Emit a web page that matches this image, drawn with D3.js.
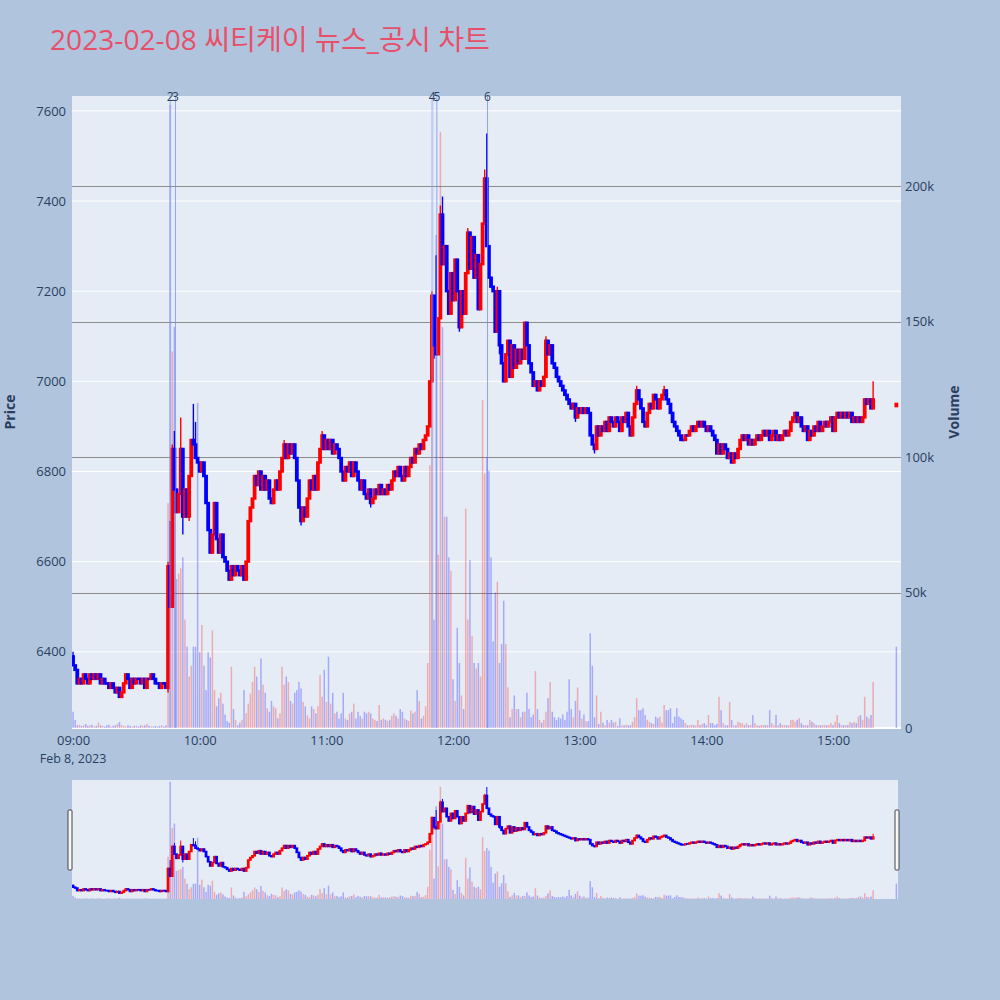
<!DOCTYPE html>
<html><head><meta charset="utf-8">
<script src="https://cdn.jsdelivr.net/npm/d3@7"></script>
<style>body{margin:0;background:#b0c4de;}svg{display:block;}</style>
</head><body><svg id="c" width="1000" height="1000"></svg>
<script>
// ---------------- DATA ----------------
const chartTitle = "2023-02-08 씨티케이 뉴스_공시 차트";
const tradeDate = "2023-02-08";
const sessionStart = "09:00";
const firstOpen = 6390;
// 1-minute closes from 09:00 (index = minutes after 09:00)
const closes = [
6370,6360,6330,6340,6330,6350,6340,6330,6350,6340,
6350,6340,6350,6330,6340,6330,6330,6320,6330,6320,
6310,6320,6300,6310,6330,6350,6340,6320,6340,6330,
6340,6340,6330,6340,6320,6340,6340,6350,6340,6330,
6330,6320,6330,6330,6320,6590,6500,6850,6760,6710,
6750,6850,6700,6760,6700,6790,6870,6860,6830,6820,
6800,6820,6790,6730,6670,6620,6660,6730,6650,6620,
6660,6610,6600,6580,6560,6590,6570,6590,6580,6570,
6590,6560,6600,6690,6720,6740,6790,6770,6800,6760,
6790,6760,6780,6740,6730,6760,6780,6760,6800,6830,
6860,6830,6860,6840,6860,6830,6780,6720,6690,6720,
6700,6740,6780,6760,6790,6760,6820,6850,6880,6850,
6870,6850,6870,6840,6860,6850,6830,6800,6780,6810,
6800,6820,6790,6820,6800,6780,6760,6780,6750,6740,
6760,6730,6740,6760,6750,6770,6750,6760,6750,6770,
6760,6780,6800,6790,6810,6790,6780,6810,6790,6810,
6830,6820,6850,6840,6860,6850,6870,6880,6900,7000,
7190,7080,7060,7140,7370,7260,7300,7200,7150,7240,
7180,7270,7200,7120,7200,7150,7240,7330,7250,7320,
7230,7280,7160,7260,7350,7450,7300,7230,7210,7200,
7110,7200,7080,7040,7000,7060,7090,7010,7080,7030,
7070,7040,7070,7050,7130,7080,7040,7020,6990,7000,
6980,7000,6990,7010,7090,7060,7080,7040,7030,7010,
7000,6990,6980,6970,6960,6950,6940,6950,6920,6940,
6930,6940,6930,6940,6930,6880,6860,6850,6900,6880,
6900,6890,6910,6890,6920,6910,6900,6920,6910,6890,
6920,6910,6930,6900,6880,6920,6950,6980,6960,6940,
6910,6900,6930,6950,6940,6970,6960,6940,6960,6970,
6980,6960,6950,6930,6910,6900,6890,6880,6870,6870,
6880,6880,6890,6900,6890,6900,6910,6900,6910,6900,
6890,6900,6890,6880,6870,6840,6860,6840,6860,6850,
6830,6840,6820,6840,6830,6850,6870,6880,6870,6880,
6860,6870,6860,6870,6880,6870,6880,6890,6880,6890,
6870,6880,6890,6870,6880,6870,6880,6890,6880,6890,
6910,6920,6930,6910,6920,6900,6890,6900,6870,6890,
6880,6900,6890,6910,6890,6900,6910,6900,6910,6920,
6890,6920,6930,6920,6930,6920,6930,6920,6930,6910,
6920,6910,6920,6910,6920,6960,6950,6960,6940,6960
];
// 1-minute volumes, thousands of shares
const volumesK = [
6,3,1,1.2,0.8,1,1.5,0.8,1,1.2,
0.5,0.8,2,1,0.8,0.5,1,1.2,0.5,0.8,
1,1.5,2.2,1,0.8,0.5,1,0.8,0.5,0.8,
0.8,0.5,1,0.8,1,1.5,0.8,0.6,0.5,0.8,
0.5,0.8,1,0.5,1,83,230,139,148,55,
57,59,63,40,30,19,23,30,30,120,
28,38,23,14,28,26,36,14,8,11,
13,9,5,2.6,2,22.6,7,3,1,2,
3,14,5.4,9,12.7,17,22.6,19,14,25.7,
16,13,7.3,6,10,8,7.3,3.6,5.4,22.6,
16,19,17,10,9,13,14,17,14.6,9.6,
8,4.7,3.6,8,7,5.4,8,19.5,11.6,21.5,
9.6,26.3,9,13,5.4,6,3.5,5.4,13,3.5,
3,5.4,6,9,3.5,6,4.5,3.5,6,5.4,
6,5.4,3.5,3,2.6,8.5,3,3.5,3,2.6,
3,4.5,5.4,4.5,3.5,7,6,3.5,3,2.6,
6.5,5.4,6,14,10,3.5,4.5,8,24,97,
150,40,182,64,220,148,78,78,63,58,
18,10,37,24,12,7,81,40,62,34,
24,22,24,19,121,94,100,95,63,32,
50,54,24,31,47,31,15,4,7,12,
7,7,4,6,6,13,7,4,5,21,
7,3,2,3,6,11,17,6,4,3,
4,3.5,5,3,6,18,7,4,10,15,
6.5,3.5,5,2.5,2.5,35,23,4,12,1.5,
6,2,1,3,2,3,2,2.3,0.7,3.6,
1,1,1.2,1,1,2.3,4,11,6.6,6.6,
7.3,4.8,3,2.3,1.8,1.5,4.2,3.6,4.2,2,
8.5,6.6,6.6,7.3,1.8,4.2,7.3,4.2,3.6,3,
1.8,1,1,1.2,1,1,3,1,1.5,1.8,
1,4.8,1.8,1.8,1,1.5,11.5,6.6,1.8,1,
1,9.7,3,1,1,2.3,2,1.8,1,1.8,
1,1.1,4.8,1.8,1,0.8,1.1,1.1,1.1,1,
6.6,1.8,1,4.8,1,1.8,1.1,1.1,1,1,
3,3,2.3,3,3.6,1.8,1,1.1,1,3,
2.3,1.8,1.1,1,1,1.1,1.1,1,1.1,1.8,
1,2.3,4.8,1.8,1,1.1,1,1.1,2.3,1.8,
2.3,1.8,4.2,4.8,3,11.5,4.2,3.6,4.8,17
];
// wick extremes that go beyond the candle body (minute index -> price)
const wickHighs = {0:6400,45:6600,46:6690,47:6860,48:6890,51:6920,57:6950,58:6910,100:6870,118:6890,
  170:7200,172:7280,174:7390,175:7410,187:7340,195:7470,196:7550,201:7210,224:7100,267:6990,280:6990,379:7000};
const wickLows = {22:6300,45:6310,52:6660,55:6690,108:6680,141:6720,171:7050,183:7110,202:7060,238:6910,247:6840};
// closing auction print
const auctionTime = "15:30";
const auctionOpen = 6945, auctionClose = 6950, auctionVolumeK = 30;
// news / disclosure markers
const newsTimes = ["09:46:00","09:48:30","11:50:10","11:52:20","12:16:20"];
const newsLabels = ["2","3","4","5","6"];
// axes
const priceTicks = [6400,6600,6800,7000,7200,7400,7600];
const volumeTicksK = [0,50,100,150,200];
const volumeTickLabels = ["0","50k","100k","150k","200k"];
const timeTicks = ["09:00","10:00","11:00","12:00","13:00","14:00","15:00"];
const dateLabel = "Feb 8, 2023";

// ---------------- LAYOUT ----------------
const P = {left:72, right:901, top:96, bottom:728};
const SL = {left:72, right:898, top:780, bottom:899};
const UP = "#ff0000", DOWN = "#0000ff";
const FONT = "'Open Sans', 'Noto Sans', sans-serif";
const TXT = "#2a3f5f";

const parse = d3.timeParse("%Y-%m-%d %H:%M:%S");
const t0 = parse(tradeDate + " " + sessionStart + ":00");
const MIN = 60000;

const candles = closes.map((c, i) => {
  const o = i === 0 ? firstOpen : closes[i-1];
  const hi = Math.max(o, c, wickHighs[i] ?? -Infinity);
  const lo = Math.min(o, c, wickLows[i] ?? Infinity);
  return {time: new Date(+t0 + i*MIN), open:o, close:c, high:hi, low:lo,
          vol: volumesK[i]*1000, prev: i === 0 ? firstOpen : closes[i-1]};
});
candles.push({time: parse(tradeDate+" "+auctionTime+":00"), open:auctionOpen, close:auctionClose,
  high:Math.max(auctionOpen,auctionClose), low:Math.min(auctionOpen,auctionClose),
  vol:auctionVolumeK*1000, prev: closes[closes.length-1]});

const x = d3.scaleTime()
  .domain([new Date(+t0 - 0.5*MIN), new Date(+t0 + 392.2*MIN)])
  .range([P.left, P.right]);
const yP = d3.scaleLinear().domain([6231, 7633]).range([P.bottom, P.top]);
const yV = d3.scaleLinear().domain([0, 233300]).range([P.bottom, P.top]);
const yPs = yP.copy().range([SL.bottom, SL.top]);
const yVs = yV.copy().range([SL.bottom, SL.top]);

const svg = d3.select("#c");
svg.append("rect").attr("width",1000).attr("height",1000).attr("fill","#b0c4de");

// title
svg.append("text").attr("x",50).attr("y",50).attr("font-family","'Open Sans','Noto Sans CJK KR',sans-serif")
  .attr("font-size",28).attr("fill","#e8506a").attr("textLength",440).attr("lengthAdjust","spacingAndGlyphs")
  .text(chartTitle);

// plot background
svg.append("rect").attr("x",P.left).attr("y",P.top).attr("width",P.right-P.left).attr("height",P.bottom-P.top).attr("fill","#e5ecf6");

const defs = svg.append("defs");
defs.append("clipPath").attr("id","clipMain").append("rect")
  .attr("x",P.left).attr("y",P.top).attr("width",P.right-P.left).attr("height",P.bottom-P.top);
defs.append("clipPath").attr("id","clipSl").append("rect")
  .attr("x",SL.left).attr("y",SL.top).attr("width",SL.right-SL.left).attr("height",SL.bottom-SL.top);

// price grid (white)
svg.append("g").selectAll("line").data(priceTicks).join("line")
  .attr("x1",P.left).attr("x2",P.right).attr("y1",d=>yP(d)).attr("y2",d=>yP(d))
  .attr("stroke","#ffffff").attr("stroke-width",1);
// volume zero line
svg.append("line").attr("x1",P.left).attr("x2",P.right).attr("y1",yV(0)).attr("y2",yV(0))
  .attr("stroke","#ffffff").attr("stroke-width",2);
// volume grid (gray)
svg.append("g").selectAll("line").data(volumeTicksK.filter(d=>d>0)).join("line")
  .attr("x1",P.left).attr("x2",P.right).attr("y1",d=>Math.round(yV(d*1000))+0.5).attr("y2",d=>Math.round(yV(d*1000))+0.5)
  .attr("stroke","#8c8c8c").attr("stroke-width",1.2);

function drawVolumes(g, yv, vw) {
  g.append("g").selectAll("rect").data(candles).join("rect")
    .attr("x", d => x(d.time) - vw/2).attr("width", vw)
    .attr("y", d => yv(d.vol)).attr("height", d => Math.max(0, yv(0) - yv(d.vol)))
    .attr("fill", d => d.close > d.prev ? UP : DOWN).attr("fill-opacity", 0.28);
}
function drawCandles(g, ys, bw, sw, ww) {
  const cg = g.append("g");
  const col = d => d.close > d.open ? UP : DOWN;
  cg.selectAll("line").data(candles).join("line")
    .attr("x1", d => x(d.time)).attr("x2", d => x(d.time))
    .attr("y1", d => ys(d.high)).attr("y2", d => ys(d.low))
    .attr("stroke", col).attr("stroke-width", ww);
  cg.selectAll("rect").data(candles).join("rect")
    .attr("x", d => x(d.time) - bw/2).attr("width", bw)
    .attr("y", d => ys(Math.max(d.open, d.close)))
    .attr("height", d => Math.max(0.1, Math.abs(ys(d.open) - ys(d.close))))
    .attr("fill", col).attr("stroke", col).attr("stroke-width", sw);
}

const main = svg.append("g").attr("clip-path","url(#clipMain)");
drawVolumes(main, yV, 1.5);

// news marker lines
const newsG = svg.append("g");
newsTimes.forEach((t, i) => {
  const xx = x(parse(tradeDate + " " + t));
  const wide = (newsLabels[i] === "2" || newsLabels[i] === "4");
  newsG.append("line").attr("x1",xx).attr("x2",xx).attr("y1",P.top).attr("y2",P.bottom)
    .attr("stroke", wide ? "#8fa3f0" : "#7085e8").attr("stroke-opacity", wide ? 0.45 : 0.7)
    .attr("stroke-width", wide ? 2.2 : 1);
  newsG.append("text").attr("x",xx).attr("y",P.top+4.5).attr("text-anchor","middle")
    .attr("font-family",FONT).attr("font-size",12).attr("fill",TXT).text(newsLabels[i]);
});

drawCandles(main, yP, 1.4, 2.4, 1.4);

// axes
const axisFont = (g, fs) => g.selectAll("text").attr("font-family",FONT).attr("font-size",fs).attr("fill",TXT);
const gyL = svg.append("g").attr("transform",`translate(${P.left},0)`)
  .call(d3.axisLeft(yP).tickValues(priceTicks).tickSize(0).tickPadding(6).tickFormat(d3.format("d")));
gyL.select(".domain").remove(); axisFont(gyL, 13);
const gyR = svg.append("g").attr("transform",`translate(${P.right},0)`)
  .call(d3.axisRight(yV).tickValues(volumeTicksK.map(v=>v*1000)).tickSize(0).tickPadding(4)
    .tickFormat((d,i)=>volumeTickLabels[i]));
gyR.select(".domain").remove(); axisFont(gyR, 13);
const gx = svg.append("g").attr("transform",`translate(0,${P.bottom})`)
  .call(d3.axisBottom(x).tickValues(timeTicks.map(t=>parse(tradeDate+" "+t+":00"))).tickSize(0).tickPadding(8)
    .tickFormat(d3.timeFormat("%H:%M")));
gx.select(".domain").remove(); axisFont(gx, 13);
svg.append("text").attr("x", x(t0)).attr("y", 763).attr("text-anchor","middle")
  .attr("font-family",FONT).attr("font-size",12.5).attr("fill",TXT).text(dateLabel);

// axis titles
svg.append("text").attr("transform",`translate(15,${(P.top+P.bottom)/2}) rotate(-90)`).attr("text-anchor","middle")
  .attr("font-family",FONT).attr("font-size",14).attr("font-weight","bold").attr("fill",TXT).text("Price");
svg.append("text").attr("transform",`translate(959,${(P.top+P.bottom)/2}) rotate(-90)`).attr("text-anchor","middle")
  .attr("font-family",FONT).attr("font-size",14).attr("font-weight","bold").attr("fill",TXT).text("Volume");

// range slider
svg.append("rect").attr("x",SL.left).attr("y",SL.top).attr("width",SL.right-SL.left).attr("height",SL.bottom-SL.top)
  .attr("fill","#e5ecf6");
const sl = svg.append("g").attr("clip-path","url(#clipSl)");
drawVolumes(sl, yVs, 1.5);
drawCandles(sl, yPs, 1.2, 1.6, 1);
[SL.left-2, SL.right-1].forEach(hx => {
  svg.append("rect").attr("x",hx-2).attr("y",810).attr("width",4).attr("height",60)
    .attr("fill","#f8f8f8").attr("stroke","#444").attr("stroke-width",1).attr("rx",1);
});
</script></body></html>
